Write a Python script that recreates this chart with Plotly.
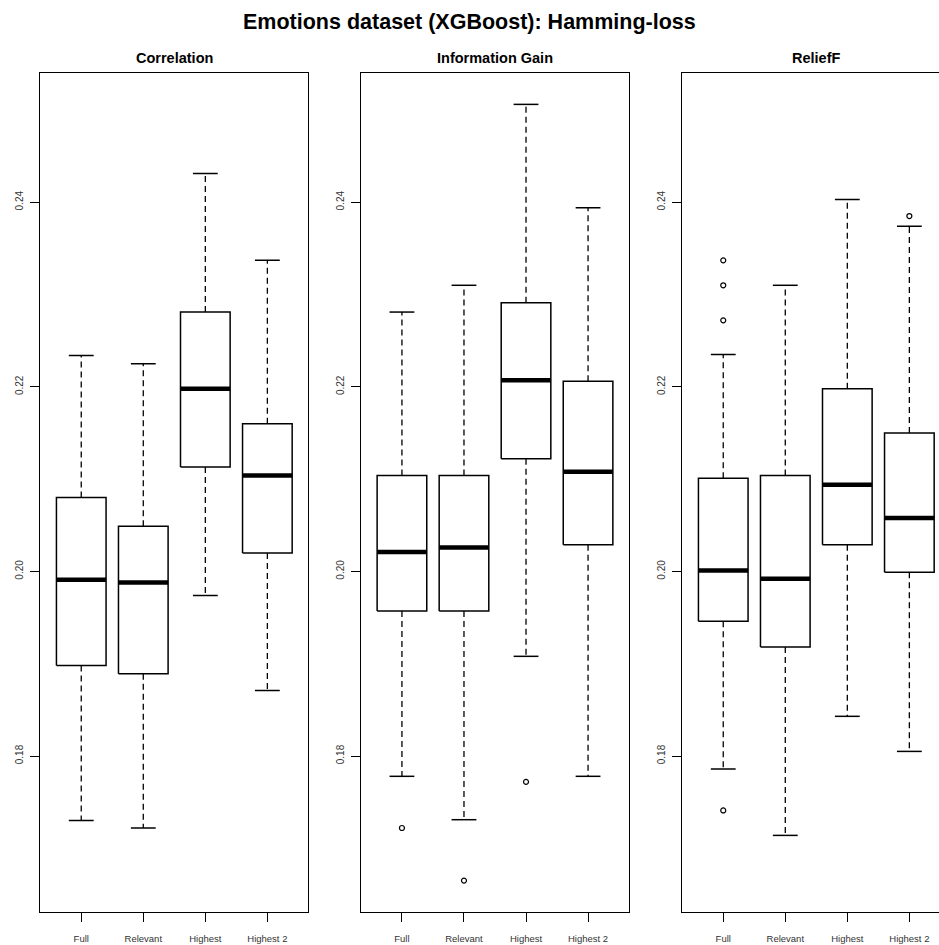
import plotly.graph_objects as go

# Hamming-loss summaries for the emotions dataset, per feature-selection method
categories = ["Full", "Relevant", "Highest", "Highest 2"]
methods = ["Correlation", "Information Gain", "ReliefF"]

corr_lower = [0.1730, 0.1722, 0.1974, 0.1871]
corr_q1 = [0.1898, 0.1889, 0.2113, 0.2020]
corr_med = [0.1991, 0.1988, 0.2198, 0.2104]
corr_q3 = [0.2080, 0.2049, 0.2281, 0.2160]
corr_upper = [0.2234, 0.2225, 0.2431, 0.2337]
corr_out = [[], [], [], []]

ig_lower = [0.1778, 0.1731, 0.1908, 0.1778]
ig_q1 = [0.1957, 0.1957, 0.2122, 0.2029]
ig_med = [0.2021, 0.2026, 0.2207, 0.2108]
ig_q3 = [0.2104, 0.2104, 0.2291, 0.2206]
ig_upper = [0.2281, 0.2310, 0.2506, 0.2394]
ig_out = [[0.1722], [0.1665], [0.1772], []]

rf_lower = [0.1786, 0.1714, 0.1843, 0.1805]
rf_q1 = [0.1946, 0.1918, 0.2029, 0.1999]
rf_med = [0.2001, 0.1992, 0.2094, 0.2058]
rf_q3 = [0.2101, 0.2104, 0.2198, 0.2150]
rf_upper = [0.2235, 0.2310, 0.2403, 0.2374]
rf_out = [[0.2337, 0.2310, 0.2272, 0.1741], [], [], [0.2385]]

y_ticks = [0.18, 0.20, 0.22, 0.24]
y_tick_text = ["0.18", "0.20", "0.22", "0.24"]

panels = [
    (corr_lower, corr_q1, corr_med, corr_q3, corr_upper, corr_out),
    (ig_lower, ig_q1, ig_med, ig_q3, ig_upper, ig_out),
    (rf_lower, rf_q1, rf_med, rf_q3, rf_upper, rf_out),
]

W, H = 939, 945
FONT = "Liberation Sans, Arial, sans-serif"
BOX_HALF = 0.4
STAPLE_HALF = 0.2

# pixel frame of each panel
frame_left = [40.3, 361.0, 682.3]
panel_w = 268.0
frame_top, frame_bottom = 73.0, 912.0
x_lo, x_hi = 0.34, 4.66
y_range = [0.1631, 0.2540]

fig = go.Figure()

for p, (lo, q1, med, q3, up, outl) in enumerate(panels):
    xa = "x" if p == 0 else f"x{p + 1}"
    ya = "y" if p == 0 else f"y{p + 1}"
    bx, by, mx, my, wx, wy, sx, sy, ox, oy = [], [], [], [], [], [], [], [], [], []
    for i in range(len(categories)):
        c = i + 1
        bx += [c - BOX_HALF, c + BOX_HALF, c + BOX_HALF, c - BOX_HALF, c - BOX_HALF, None]
        by += [q1[i], q1[i], q3[i], q3[i], q1[i], None]
        mx += [c - BOX_HALF, c + BOX_HALF, None]
        my += [med[i], med[i], None]
        wx += [c, c, None, c, c, None]
        wy += [q3[i], up[i], None, q1[i], lo[i], None]
        sx += [c - STAPLE_HALF, c + STAPLE_HALF, None, c - STAPLE_HALF, c + STAPLE_HALF, None]
        sy += [up[i], up[i], None, lo[i], lo[i], None]
        for v in outl[i]:
            ox.append(c)
            oy.append(v)
    common = dict(xaxis=xa, yaxis=ya, showlegend=False, hoverinfo="skip")
    fig.add_trace(go.Scatter(x=wx, y=wy, mode="lines",
                             line=dict(color="black", width=1.3, dash="6px,4px"), **common))
    fig.add_trace(go.Scatter(x=sx, y=sy, mode="lines",
                             line=dict(color="black", width=1.5), **common))
    fig.add_trace(go.Scatter(x=bx, y=by, mode="lines", fill="toself", fillcolor="white",
                             line=dict(color="black", width=1.5), **common))
    fig.add_trace(go.Scatter(x=mx, y=my, mode="lines",
                             line=dict(color="black", width=4.5), **common))
    if ox:
        fig.add_trace(go.Scatter(x=ox, y=oy, mode="markers",
                                 marker=dict(symbol="circle-open", size=5,
                                             color="black", line=dict(width=1.2)),
                                 **common))

layout = dict(
    width=W, height=H,
    margin=dict(l=0, r=0, t=0, b=0),
    paper_bgcolor="white", plot_bgcolor="white",
    font=dict(family=FONT, color="#333333"),
)

y_dom = [(H - frame_bottom) / H, (H - frame_top) / H]
for p in range(3):
    left = frame_left[p]
    right = left + panel_w
    if right > W:
        hi = x_lo + (x_hi - x_lo) * (W - left) / panel_w
        x_dom = [left / W, 1.0]
    else:
        hi = x_hi
        x_dom = [left / W, right / W]
    xk = "xaxis" if p == 0 else f"xaxis{p + 1}"
    yk = "yaxis" if p == 0 else f"yaxis{p + 1}"
    yid = "y" if p == 0 else f"y{p + 1}"
    xid = "x" if p == 0 else f"x{p + 1}"
    layout[xk] = dict(
        domain=x_dom, range=[x_lo, hi], anchor=yid,
        tickmode="array", tickvals=[1, 2, 3, 4], ticktext=categories,
        ticks="outside", ticklen=9, tickwidth=1.2, tickcolor="black",
        ticklabelstandoff=8,
        showline=True, linecolor="black", linewidth=1.3, mirror=True,
        showgrid=False, zeroline=False,
        tickfont=dict(size=9.5, color="#333333", family=FONT),
    )
    layout[yk] = dict(
        domain=y_dom, range=y_range, anchor=xid,
        tickmode="array", tickvals=y_ticks, ticktext=y_tick_text,
        ticks="outside", ticklen=9, tickwidth=1.2, tickcolor="black",
        tickangle=-90, ticklabelstandoff=3,
        showline=True, linecolor="black", linewidth=1.3,
        mirror=(p < 2),
        showgrid=False, zeroline=False,
        tickfont=dict(size=10, color="#333333", family=FONT),
    )

fig.update_layout(**layout)

# main and panel titles
fig.add_annotation(text="<b>Emotions dataset (XGBoost): Hamming-loss</b>",
                   x=0.5, y=1 - 22 / H, xref="paper", yref="paper",
                   xanchor="center", yanchor="middle",
                   showarrow=False, font=dict(size=21.5, color="black", family=FONT))
for p, name in enumerate(methods):
    cx = (frame_left[p] + panel_w / 2) / W
    fig.add_annotation(text=f"<b>{name}</b>", x=cx, y=1 - 58 / H,
                       xref="paper", yref="paper", xanchor="center", yanchor="middle",
                       showarrow=False,
                       font=dict(size=14.5, color="black", family=FONT))

fig.write_html("out.html")
